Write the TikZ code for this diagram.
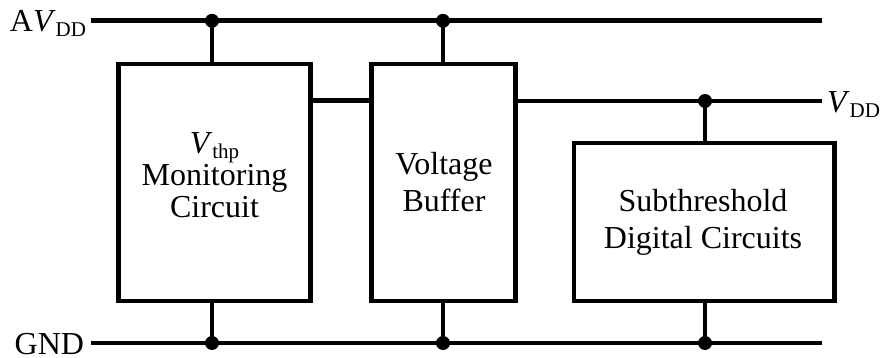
\documentclass[tikz,border=0pt]{standalone}
\usepackage{fontspec}
\setmainfont{Liberation Serif}
\newcommand{\mysub}[1]{\raisebox{-5pt}{\fontsize{21}{21}\selectfont #1}}
\begin{document}
\begin{tikzpicture}[x=1pt,y=-1pt,line width=4.6pt,
  blk/.style={draw,line width=4.6pt,inner sep=0pt,outer sep=0pt},
  txt/.style={inner sep=0pt,outer sep=0pt,align=center,font=\fontsize{32}{37}\selectfont},
  lbl/.style={inner sep=0pt,outer sep=0pt,font=\fontsize{32}{37}\selectfont},
  dot/.style={circle,fill=black,inner sep=0pt,minimum size=14pt}]
\useasboundingbox (0,0) rectangle (880,358);
% blocks
\node[blk,minimum width=192pt,minimum height=237pt] (b1) at (214.5,182.5) {};
\node[blk,minimum width=144pt,minimum height=237pt] (b2) at (443.5,182.5) {};
\node[blk,minimum width=260.7pt,minimum height=158pt] (b3) at (704.3,222) {};
% block texts
\node[txt,font=\fontsize{32}{32}\selectfont] (t1) at (214.5,175) {\textit{V}\mysub{thp}\\Monitoring\\Circuit};
\node[txt] (t2) at (444,182) {Voltage\\Buffer};
\node[txt] (t3) at (703,222) {Subthreshold\\Digital Circuits};
% rail ends
\coordinate (aL) at (91,20.8);
\coordinate (aR) at (822,20.8);
\coordinate (gL) at (91,343);
\coordinate (gR) at (822,343);
\coordinate (vR) at (822,101);
% junctions
\coordinate (ja1) at (212,20.8);
\coordinate (ja2) at (443,20.8);
\coordinate (jv) at (705,101);
\coordinate (jg1) at (212,343);
\coordinate (jg2) at (443,343);
\coordinate (jg3) at (705,343);
% labels
\node[lbl,anchor=base east] (lA) at (86,32) {A\textit{V}\mysub{DD}};
\node[lbl,anchor=base east] (lG) at (84,354) {GND};
\node[lbl,anchor=base west] (lV) at (827,113) {\textit{V}\mysub{DD}};
% rails
\draw (aL) -- (aR);
\draw (gL) -- (gR);
\draw (b2.east |- jv) -- (vR);
\draw (b1.east |- 0,100.5) -- (b2.west |- 0,100.5);
% taps
\draw (ja1) -- (ja1 |- b1.north);
\draw (ja2) -- (ja2 |- b2.north);
\draw (jv) -- (jv |- b3.north);
\draw (jg1) -- (jg1 |- b1.south);
\draw (jg2) -- (jg2 |- b2.south);
\draw (jg3) -- (jg3 |- b3.south);
% dots
\foreach \j in {ja1,ja2,jv,jg1,jg2,jg3} \node[dot] at (\j) {};
\end{tikzpicture}
\end{document}
